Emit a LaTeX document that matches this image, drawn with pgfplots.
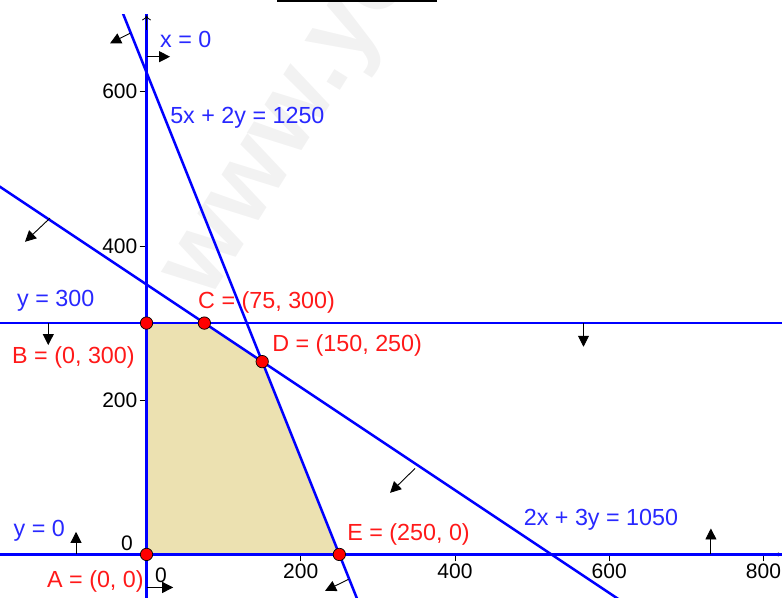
\documentclass[border=0pt]{standalone}
\usepackage{pgfplots}
\pgfplotsset{compat=1.18}
\usepackage{fontspec}
\setmainfont{Liberation Sans}
\usetikzlibrary{arrows.meta}
\definecolor{fillc}{RGB}{236,225,177}
\definecolor{lblue}{RGB}{40,40,255}
\definecolor{lred}{RGB}{255,25,25}
\definecolor{wm}{RGB}{242,242,242}
\tikzset{
  lbl/.style={anchor=base west, inner sep=0pt, font=\fontsize{23.3bp}{28bp}\selectfont},
  bl/.style={lbl, text=lblue},
  rl/.style={lbl, text=lred},
}
\begin{document}
\begin{tikzpicture}
\begin{axis}[name=ax,
  x=0.771bp, y=0.771bp,
  xmin=-190, xmax=824, ymin=-55.4, ymax=700,
  axis lines=middle,
  axis line style={black, line width=0.8bp},
  xtick={200,400,600,800}, ytick={200,400,600},
  tick align=outside, major tick length=7bp,
  tick style={black, line width=0.8bp},
  ticklabel style={font=\fontsize{21bp}{23bp}\selectfont, inner sep=2bp},
  /pgf/number format/assume math mode=true,
  clip mode=individual,
]
% watermark
\node[anchor=base west, inner sep=0pt, rotate=58, text=wm, font=\fontsize{105bp}{115bp}\selectfont\bfseries] at (axis cs:80,328) {www.yo};
% feasible region
\addplot[fill=fillc, draw=none] coordinates {(0,0) (0,300) (75,300) (150,250) (250,0)} -- cycle;
% constraint lines
\addplot[blue, line width=2.5bp] coordinates {(-200,300) (830,300)};
\addplot[blue, line width=2.5bp] coordinates {(-200,0) (830,0)};
\addplot[blue, line width=3.5bp] coordinates {(0,-60) (0,705)};
\addplot[blue, line width=2.5bp] coordinates {(-40,725) (280,-75)};
\addplot[blue, line width=2.5bp] coordinates {(-200,483.333) (620,-63.333)};
% y axis arrow tip over the line x = 0
\addplot[black, line width=0.8bp, -{To[length=5bp, width=9bp]}] coordinates {(0,680) (0,699)};
% direction arrows
\pgfplotsset{dirarrow/.style={black, line width=0.9bp, -{Triangle[length=11bp, width=11bp]}}}
\addplot[dirarrow] coordinates {(-21.4,675.7) (-47.3,662.7)};
\addplot[dirarrow] coordinates {(0,645.4) (30.5,645.4)};
\addplot[dirarrow] coordinates {(-125.2,436.1) (-157.6,405.4)};
\addplot[dirarrow] coordinates {(-127.4,300) (-127.4,271.5)};
\addplot[dirarrow] coordinates {(566.6,300) (566.6,269.3)};
\addplot[dirarrow] coordinates {(348.2,111.5) (315.8,79.9)};
\addplot[dirarrow] coordinates {(-91.4,0) (-91.4,29.3)};
\addplot[dirarrow] coordinates {(731.8,0) (731.8,33.7)};
\addplot[dirarrow] coordinates {(0,-42.8) (34.6,-42.8)};
\addplot[dirarrow] coordinates {(261.7,-32.4) (231.5,-47.2)};
% vertices
\addplot[only marks, mark=*, mark size=6.2bp, mark options={fill=red, draw=black, line width=0.7bp}]
  coordinates {(0,0) (0,300) (75,300) (150,250) (250,0)};
% zero tick labels
\node[inner sep=0pt, font=\fontsize{21bp}{23bp}\selectfont] at (axis cs:-25.3,14.7) {0};
\node[inner sep=0pt, font=\fontsize{21bp}{23bp}\selectfont] at (axis cs:18.8,-26.8) {0};
% line labels
\node[bl] at (axis cs:17.5,656.7) {x = 0};
\node[bl] at (axis cs:30.5,558.8) {5x + 2y = 1250};
\node[bl] at (axis cs:-168.0,321.1) {y = 300};
\node[bl] at (axis cs:-172.5,22.8) {y = 0};
\node[bl] at (axis cs:489.0,38.0) {2x + 3y = 1050};
% point labels
\node[rl] at (axis cs:66.8,319.5) {C = (75, 300)};
\node[rl] at (axis cs:-174.4,247.7) {B = (0, 300)};
\node[rl] at (axis cs:162.8,262.8) {D = (150, 250)};
\node[rl] at (axis cs:260.1,18.5) {E = (250, 0)};
\node[rl] at (axis cs:-129.1,-42.8) {A = (0, 0)};
% title underline at top
\draw[black, line width=2bp] (axis cs:169.3,717.6) -- (axis cs:376.8,717.6);
\end{axis}
\pgfresetboundingbox
\useasboundingbox (ax.south west) rectangle ([yshift=14.6bp]ax.north east);
\end{tikzpicture}
\end{document}
